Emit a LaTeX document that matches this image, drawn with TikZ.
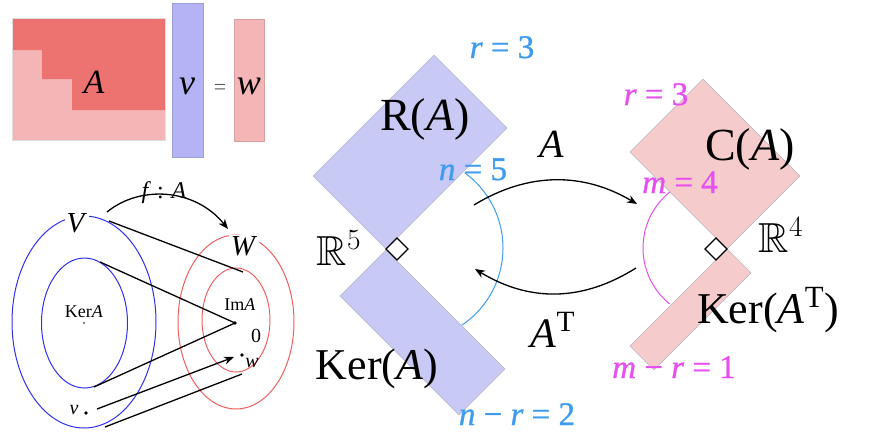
\RequirePackage{fix-cm}
\documentclass[tikz,border=0pt]{standalone}
\usepackage{amssymb}
\usepackage[no-math]{fontspec}
\setmainfont{Liberation Serif}
\newfontfamily\cfont[FakeBold=0.9]{Liberation Serif}
\usetikzlibrary{arrows.meta}
\newcommand\myfs[1]{\fontsize{#1}{#1}\selectfont}
\definecolor{matA}{HTML}{EC7370}
\definecolor{matL}{HTML}{F3B5B5}
\definecolor{vblue}{HTML}{B3B3F5}
\definecolor{vbord}{HTML}{A0A0D8}
\definecolor{wbord}{HTML}{D8A0A0}
\definecolor{rblue}{HTML}{C9C9F5}
\definecolor{cpink}{HTML}{F5CBCB}
\definecolor{rbord}{HTML}{B8B8C4}
\definecolor{lblue}{HTML}{3D9BF0}
\definecolor{lmag}{HTML}{E650F0}
\definecolor{ellblue}{HTML}{3030F0}
\definecolor{ellred}{HTML}{F06060}
\begin{document}
\begin{tikzpicture}[x=1pt,y=-1pt,
  lbl/.style={inner sep=0pt, anchor=base},
  clbl/.style={inner sep=0pt, anchor=base, font=\cfont\myfs{33}},
  wlbl/.style={inner sep=1.5pt, anchor=base, fill=white},
  dot/.style={circle, fill=black, inner sep=0pt, minimum size=3.6pt},
  conn/.style={black, line width=1.3pt},
  arr/.style={black, line width=1.3pt, -{Stealth[length=10pt,width=8pt]}},
  space/.style={draw=rbord, line width=0.6pt},
  rmark/.style={draw=black, fill=white, line width=1.3pt}]
\useasboundingbox (0,0) rectangle (870,439);

% ---------- top-left: A v = w ----------
\fill[matL] (12,18) rectangle (165,140);
\fill[matA] (12,18) -- (165,18) -- (165,110) -- (72,110) -- (72,79) -- (42,79) -- (42,50) -- (12,50) -- cycle;
\draw[gray!25, line width=0.5pt] (12,18) rectangle (165,140);
\draw[fill=vblue, draw=vbord, line width=0.6pt] (172,3) rectangle (203,157);
\draw[fill=matL, draw=wbord, line width=0.6pt] (234,19) rectangle (264,141);
\node[lbl] (Am) at (94,93) {\myfs{34}\textit{A}};
\node[lbl] (vm) at (187,94) {\myfs{36}\textit{v}};
\node[lbl] (eqm) at (220,94) {\myfs{22}\color{black!65}=};
\node[lbl] (wm) at (249,94) {\myfs{36}\textit{w}};

% ---------- bottom-left: sets ----------
\draw[ellblue, line width=1pt] (84,322) ellipse [x radius=72, y radius=106];
\draw[ellblue, line width=1pt] (84.5,323) ellipse [x radius=43, y radius=65];
\draw[ellred, line width=1pt] (236,322) ellipse [x radius=58, y radius=87];
\draw[ellred, line width=1pt] (236,320) ellipse [x radius=34, y radius=52];
\node[wlbl] (Vl) at (77,232) {\myfs{29}\textit{V}};
\node[wlbl] (Wl) at (244,255) {\myfs{29}\textit{W}};
\node[lbl] (KerAl) at (84,317) {\myfs{18}Ker\textit{A}};
\node[lbl] (ImAl) at (240,310) {\myfs{18}Im\textit{A}};
\node[lbl] (zerol) at (256,342) {\myfs{20}0};
\node[lbl] (wl) at (252,367) {\myfs{20}\textit{w}};
\node[lbl] (vl) at (74,414) {\myfs{20}\textit{v}};
\node[lbl] (fAl) at (164,198) {\myfs{24}\textit{f} : \textit{A}};
\node[dot, minimum size=1.8pt] (kdot) at (84,323) {};
\node[dot] (zero) at (235,323) {};
\node[dot] (wdot) at (242,355) {};
\node[dot] (vdot) at (86,413) {};

\coordinate (fa) at (107,212);
\coordinate (fb) at (228,229);
\draw[arr] (fa) .. controls (140,185) and (195,188) .. (fb);
\coordinate (l1a) at (109,221);
\coordinate (l1b) at (243,272);
\draw[conn] (l1a) -- (l1b);
\coordinate (l2a) at (100,262);
\draw[conn] (l2a) -- (zero.center);
\coordinate (l3a) at (94,387);
\draw[conn] (l3a) -- (zero.center);
\coordinate (l4a) at (97,409);
\coordinate (l4b) at (234,357);
\draw[arr] (l4a) -- (l4b);
\coordinate (l5a) at (105,427);
\coordinate (l5b) at (242,374);
\draw[conn] (l5a) -- (l5b);

% ---------- right: four subspaces ----------
\draw[space, fill=rblue] (313,176) -- (434,55) -- (507,128) -- (386,249) -- cycle;
\draw[space, fill=rblue] (386,250) -- (505,369) -- (459,415) -- (340,296) -- cycle;
\draw[space, fill=cpink] (630,152) -- (703,79) -- (800,176) -- (727,249) -- cycle;
\draw[space, fill=cpink] (727,249) -- (751,273) -- (654,370) -- (630,346) -- cycle;
\draw[rmark] (386,249) -- (397,238) -- (408,249) -- (397,260) -- cycle;
\draw[rmark] (705,249) -- (716,238) -- (727,249) -- (716,260) -- cycle;

% arcs
\coordinate (bc) at (410,248);
\draw[lblue, line width=1pt] (bc) ++(-54:93) arc[start angle=-54, end angle=56, radius=93];
\coordinate (mc) at (715,248);
\draw[lmag, line width=1pt] (mc) ++(-129:72) arc[start angle=-129, end angle=-231, radius=72];

% arrows A and A^T
\coordinate (Aa) at (474,205);
\coordinate (Ab) at (637,204);
\draw[arr] (Aa) .. controls (528,172) and (583,172) .. (Ab);
\coordinate (ATa) at (636,268);
\coordinate (ATb) at (475,269);
\draw[arr] (ATa) .. controls (582,302) and (529,302) .. (ATb);

% labels
\node[lbl] (RAl) at (425,130) {\myfs{46}R(\textit{A})};
\node[lbl] (KerRl) at (377,379) {\myfs{44}Ker(\textit{A})};
\node[lbl] (R5l) at (339,265) {\myfs{42}$\mathbb{R}^5$};
\node[lbl] (Al) at (552,157) {\myfs{40}\textit{A}};
\node[lbl] (ATl) at (553,347) {\myfs{42}\textit{A}\textsuperscript{T}};
\node[lbl] (CAl) at (750,160) {\myfs{46}C(\textit{A})};
\node[lbl] (R4l) at (781,252) {\myfs{42}$\mathbb{R}^4$};
\node[lbl] (KerCl) at (768,323) {\myfs{44}Ker(\textit{A}\textsuperscript{T})};
\node[clbl, text=lblue] (r3b) at (502,58) {\textit{r} = 3};
\node[clbl, text=lblue] (n5) at (473,180) {\textit{n} = 5};
\node[clbl, text=lblue] (nr2) at (517,425) {\textit{n} − \textit{r} = 2};
\node[clbl, text=lmag] (r3m) at (656,105) {\textit{r} = 3};
\node[clbl, text=lmag] (m4) at (680,193) {\textit{m} = 4};
\node[clbl, text=lmag] (mr1) at (674,378) {\textit{m} − \textit{r} = 1};
\end{tikzpicture}
\end{document}
